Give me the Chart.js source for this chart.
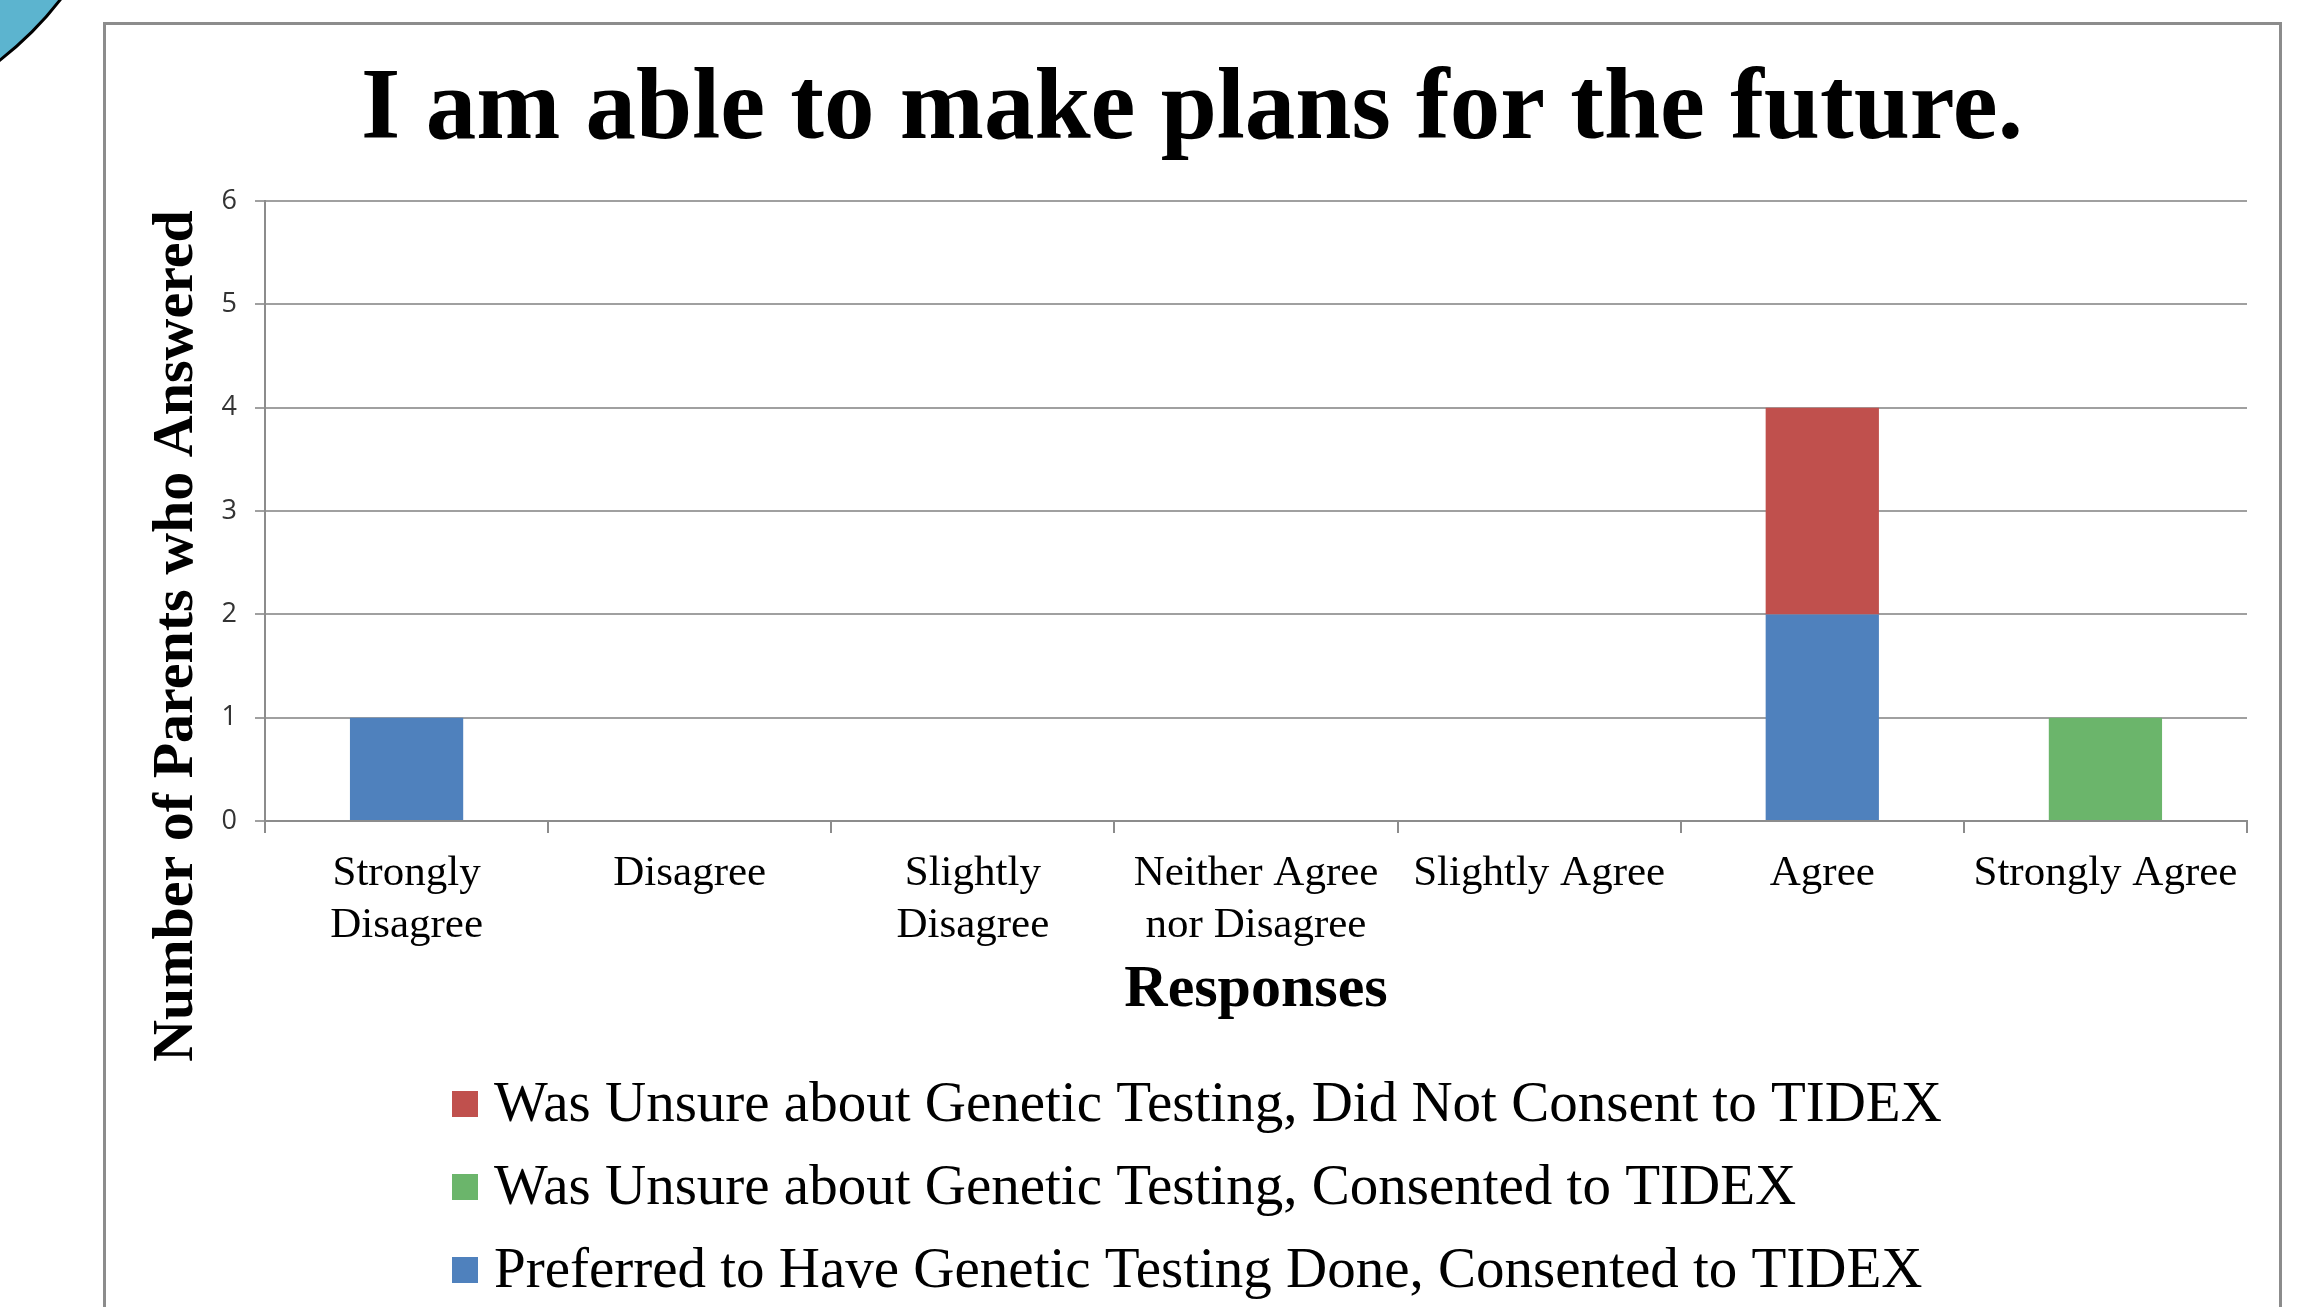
<!DOCTYPE html>
<html>
<head>
<meta charset="utf-8">
<script src="https://cdn.jsdelivr.net/npm/chart.js@4/dist/chart.umd.min.js"></script>
<style>
  html, body { margin: 0; padding: 0; background: #fff; }
  #wrap { width: 2307px; height: 1307px; position: relative; }
</style>
</head>
<body>
<div id="wrap"><canvas id="futurePlans" width="2307" height="1307"></canvas></div>
<script>
// answers
var categories = [
  ['Strongly', 'Disagree'],
  'Disagree',
  ['Slightly', 'Disagree'],
  ['Neither Agree', 'nor Disagree'],
  'Slightly Agree',
  'Agree',
  'Strongly Agree'
];
var preferredConsented = [1, 0, 0, 0, 0, 2, 0];
var unsureConsented = [0, 0, 0, 0, 0, 0, 1];
var unsureNotConsented = [0, 0, 0, 0, 0, 2, 0];
var yTicks = [0, 1, 2, 3, 4, 5, 6];

var seriesNames = [
  'Preferred to Have Genetic Testing Done, Consented to TIDEX',
  'Was Unsure about Genetic Testing, Consented to TIDEX',
  'Was Unsure about Genetic Testing, Did Not Consent to TIDEX'
];
var yTitle = 'Number of Parents who Answered';

var serif = '"Liberation Serif", "Times New Roman", serif';
var axisGray = '#8c8c8c';

// slide frame + the teal corner from the template
var slideFrame = {
  id: 'slideFrame',
  beforeDraw: function (chart) {
    var ctx = chart.ctx;
    ctx.save();
    ctx.fillStyle = '#fff';
    ctx.fillRect(0, 0, chart.width, chart.height);

    ctx.beginPath();
    ctx.arc(-200, -200, 328, 0, Math.PI / 2);
    ctx.lineTo(-200, -200);
    ctx.closePath();
    ctx.fillStyle = '#5cb4cf';
    ctx.fill();
    ctx.beginPath();
    ctx.arc(-200, -200, 328, 0, Math.PI / 2);
    ctx.lineWidth = 3;
    ctx.strokeStyle = '#000';
    ctx.stroke();

    ctx.lineWidth = 3;
    ctx.strokeStyle = axisGray;
    ctx.strokeRect(104.5, 23.5, 2176, 1400);
    ctx.restore();
  }
};

// y title sits lower than the plot centre in the original, so it is placed by hand
// legend: one per line, left aligned, last series first (like excel)
var sideTexts = {
  id: 'sideTexts',
  afterDraw: function (chart) {
    var ctx = chart.ctx;
    ctx.save();
    ctx.translate(177, 636);
    ctx.rotate(-Math.PI / 2);
    ctx.font = 'bold 58px ' + serif;
    ctx.textAlign = 'center';
    ctx.textBaseline = 'middle';
    ctx.fillStyle = '#000';
    ctx.fillText(yTitle, 0, 0);
    ctx.restore();

    var sets = chart.data.datasets.slice().reverse();
    ctx.save();
    ctx.font = '57px ' + serif;
    ctx.textBaseline = 'middle';
    ctx.textAlign = 'left';
    sets.forEach(function (ds, i) {
      var y = 1104 + i * 83;
      ctx.fillStyle = ds.backgroundColor;
      ctx.fillRect(452, y - 13, 26, 26);
      ctx.fillStyle = '#000';
      ctx.fillText(ds.label, 494, y + 2);
    });
    ctx.restore();
  }
};

var chart = new Chart(document.getElementById('futurePlans').getContext('2d'), {
  type: 'bar',
  data: {
    labels: categories,
    datasets: [
      { label: seriesNames[0], data: preferredConsented, backgroundColor: '#4f81bd' },
      { label: seriesNames[1], data: unsureConsented, backgroundColor: '#6bb56b' },
      { label: seriesNames[2], data: unsureNotConsented, backgroundColor: '#c0504d' }
    ]
  },
  options: {
    responsive: false,
    animation: false,
    layout: { padding: { left: 103, right: 26, top: 0, bottom: 281 } },
    datasets: {
      bar: { barPercentage: 0.4, categoryPercentage: 1.0 }
    },
    plugins: {
      legend: { display: false },
      tooltip: { enabled: false },
      title: {
        display: true,
        text: 'I am able to make plans for the future.',
        color: '#000',
        font: { family: serif, size: 101, weight: 'bold' },
        padding: { top: 51, bottom: 29 }
      }
    },
    scales: {
      x: {
        stacked: true,
        afterFit: function (scale) { scale.height = 205; },
        border: { color: axisGray, width: 2 },
        grid: {
          drawOnChartArea: false,
          drawTicks: true,
          tickLength: 12,
          offset: true,
          color: axisGray,
          lineWidth: 2
        },
        ticks: {
          color: '#000',
          padding: 15,
          maxRotation: 0,
          autoSkip: false,
          font: { family: serif, size: 43, lineHeight: 1.21 }
        },
        title: {
          display: true,
          text: 'Responses',
          color: '#000',
          font: { family: serif, size: 60, weight: 'bold' },
          padding: { top: 0, bottom: 0 }
        }
      },
      y: {
        stacked: true,
        min: yTicks[0],
        max: yTicks[yTicks.length - 1],
        afterFit: function (scale) { scale.width = 162; },
        afterBuildTicks: function (scale) {
          scale.ticks = yTicks.map(function (v) { return { value: v }; });
        },
        border: { color: axisGray, width: 2 },
        grid: {
          color: '#a0a0a0',
          lineWidth: 2,
          tickLength: 10
        },
        ticks: {
          color: '#333',
          padding: 18,
          font: { family: '"Open Sans", sans-serif', size: 27 }
        },
        title: { display: false }
      },
      // empty right axis, only keeps the plot off the frame so the title centres on the frame
      spacer: {
        type: 'linear',
        position: 'right',
        display: true,
        afterFit: function (scale) { scale.width = 34; },
        border: { display: false },
        grid: { display: false },
        ticks: { display: false }
      }
    }
  },
  plugins: [slideFrame, sideTexts]
});
</script>
</body>
</html>
